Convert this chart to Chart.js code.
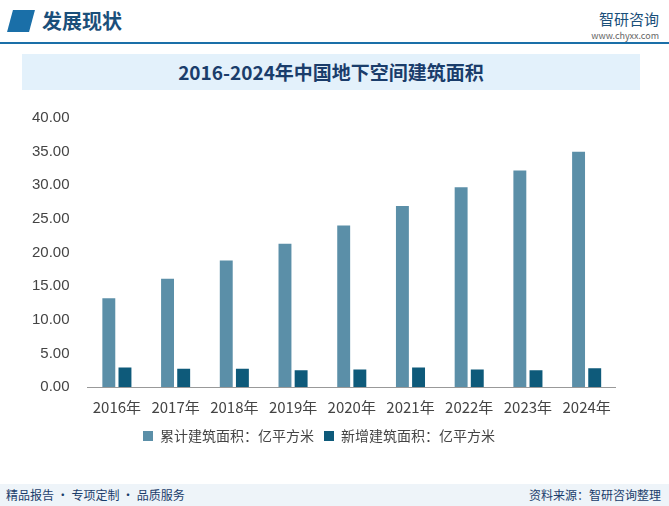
<!DOCTYPE html>
<html><head><meta charset="utf-8">
<script src="https://cdn.jsdelivr.net/npm/chart.js@4"></script>
<style>
body{margin:0;width:669px;height:506px;background:#fff;font-family:"Noto Sans CJK SC",sans-serif;position:relative;overflow:hidden}
#head{position:absolute;left:10px;top:6px;font-size:20px;font-weight:bold;color:#1a4f7a}
#head span{display:inline-block;width:22px;height:22px;background:#1a6fa8;margin-right:10px;vertical-align:-3px;transform:skewX(-15deg)}
#line{position:absolute;left:0;top:42px;width:669px;height:2px;background:#1a6fa8}
#logo{position:absolute;right:10px;top:8px;font-size:15px;color:#1a4f7a;text-align:right}
#logo small{display:block;font-size:9px;color:#666}
#title{position:absolute;left:22px;top:54px;width:618px;height:36px;background:#e3f1fb;text-align:center;line-height:36px;font-size:19px;font-weight:bold;color:#1a3d6b}
#wrap{position:absolute;left:22px;top:99px;width:594px;height:354px}
#foot{position:absolute;left:0;top:484px;width:669px;height:22px;background:#eef4f9;font-size:12px;line-height:22px}
#foot .l{position:absolute;left:6px;color:#1a3d6b}
#foot .r{position:absolute;right:8px;color:#1a3d6b}
</style></head><body>
<div id="head"><span></span>发展现状</div>
<div id="line"></div>
<div id="logo">智研咨询<small>www.chyxx.com</small></div>
<div id="title">2016-2024年中国地下空间建筑面积</div>
<div id="wrap"><canvas id="c"></canvas></div>
<div id="foot"><span class="l">精品报告 · 专项定制 · 品质服务</span><span class="r">资料来源：智研咨询整理</span></div>
<script>
const categories = ["2016年","2017年","2018年","2019年","2020年","2021年","2022年","2023年","2024年"];
const cumulative = [13.2, 16.1, 18.8, 21.3, 24.0, 26.9, 29.7, 32.2, 35.0];
const added = [2.9, 2.7, 2.7, 2.5, 2.6, 2.9, 2.6, 2.5, 2.8];

new Chart(document.getElementById("c"), {
  type: "bar",
  data: {
    labels: categories,
    datasets: [
      { label: "累计建筑面积：亿平方米", data: cumulative, backgroundColor: "#5b8fa8", barPercentage: 0.8, categoryPercentage: 0.55 },
      { label: "新增建筑面积：亿平方米", data: added, backgroundColor: "#0e5a7a", barPercentage: 0.8, categoryPercentage: 0.55 }
    ]
  },
  options: {
    responsive: true, maintainAspectRatio: false, animation: false,
    plugins: {
      legend: { position: "bottom", labels: { boxWidth: 10, boxHeight: 10, padding: 10, color: "#444", font: { size: 14, family: "Noto Sans CJK SC" } } },
      tooltip: { enabled: false }
    },
    scales: {
      x: { grid: { display: false }, border: { color: "#999" }, ticks: { color: "#444", font: { size: 15, family: "Noto Sans CJK SC" } } },
      y: { min: 0, max: 40, ticks: { stepSize: 5, padding: 10, color: "#444", font: { size: 15 }, callback: v => v.toFixed(2) }, grid: { display: false }, border: { display: false } }
    }
  }
});
</script>
</body></html>
